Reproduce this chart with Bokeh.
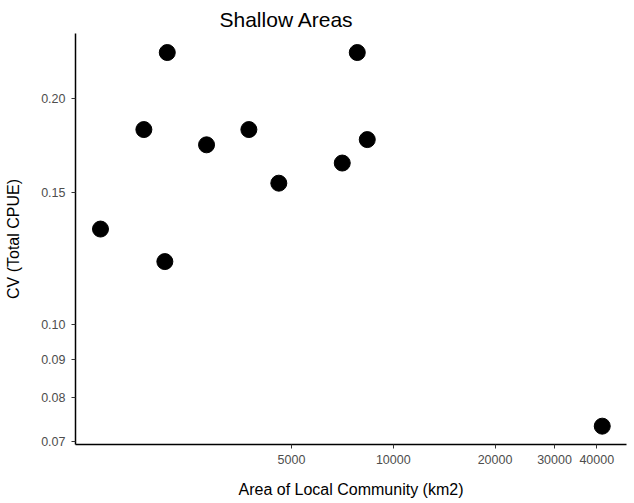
from bokeh.plotting import figure
from bokeh.models import FixedTicker, ColumnDataSource
from bokeh.embed import file_html
from bokeh.resources import INLINE

# Data
area_km2 = [1361, 1829, 2110, 2145, 2803, 3740, 4586, 7065, 7826, 8377, 41520]
cv_total_cpue = [0.1340, 0.1817, 0.1213, 0.2300, 0.1734, 0.1817, 0.1542, 0.1640, 0.2300, 0.1762, 0.0733]

x_ticks = [5000, 10000, 20000, 30000, 40000]
x_tick_labels = ["5000", "10000", "20000", "30000", "40000"]
y_ticks = [0.07, 0.08, 0.09, 0.10, 0.15, 0.20]
y_tick_labels = ["0.07", "0.08", "0.09", "0.10", "0.15", "0.20"]

FONT = "Liberation Sans"

p = figure(width=634, height=503, x_axis_type="log", y_axis_type="log",
           x_range=(1148, 48980), y_range=(0.0693, 0.2438),
           output_backend="svg", toolbar_location=None,
           min_border_left=75, min_border_right=8,
           min_border_top=33, min_border_bottom=59)

src = ColumnDataSource(dict(x=area_km2, y=cv_total_cpue))
p.scatter("x", "y", source=src, size=16, color="black")

p.title.text = "Shallow Areas"
p.title.align = "left"
p.title.offset = 144
p.title.text_font = FONT
p.title.text_font_size = "21px"
p.title.text_font_style = "normal"
p.title.text_color = "black"
p.title.standoff = 5

p.xgrid.visible = False
p.ygrid.visible = False
p.outline_line_color = None
p.background_fill_color = "white"
p.border_fill_color = "white"

p.xaxis.ticker = FixedTicker(ticks=x_ticks, minor_ticks=[])
p.yaxis.ticker = FixedTicker(ticks=y_ticks, minor_ticks=[])
p.xaxis.major_label_overrides = {t: l for t, l in zip(x_ticks, x_tick_labels)}
p.yaxis.major_label_overrides = {t: l for t, l in zip(y_ticks, y_tick_labels)}

p.xaxis.axis_label = "Area of Local Community (km2)"
p.yaxis.axis_label = "CV (Total CPUE)"

for ax in (p.xaxis, p.yaxis):
    ax.axis_line_color = "black"
    ax.axis_line_width = 1.5
    ax.major_tick_line_color = "#333333"
    ax.major_tick_line_width = 1
    ax.major_tick_out = 4
    ax.major_tick_in = 0
    ax.minor_tick_line_color = None
    ax.major_label_text_font = FONT
    ax.major_label_text_font_size = "12.5px"
    ax.major_label_text_color = "#4d4d4d"
    ax.axis_label_text_font = FONT
    ax.axis_label_text_font_size = "16px"
    ax.axis_label_text_font_style = "normal"
    ax.axis_label_text_color = "black"

p.xaxis.major_label_standoff = 6
p.yaxis.major_label_standoff = 6
p.xaxis.axis_label_standoff = 14
p.yaxis.axis_label_standoff = 16

open("out.html", "w").write(file_html(p, INLINE))
